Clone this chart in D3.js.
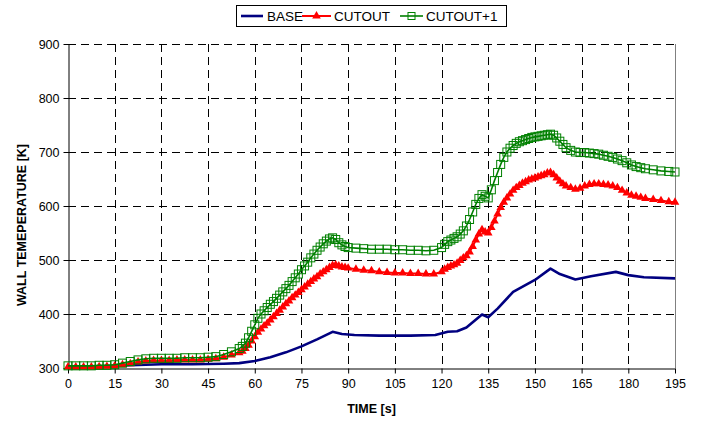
<!DOCTYPE html>
<html>
<head>
<meta charset="utf-8">
<script src="https://cdn.jsdelivr.net/npm/d3@7"></script>
<style>
  html, body { margin: 0; padding: 0; background: #fff; }
  svg { display: block; font-family: "Liberation Sans", Arial, sans-serif; }
</style>
</head>
<body>
<svg id="chart" width="706" height="423"></svg>
<script>
// Wall temperature histories for the three configurations
const seriesNames = ["BASE", "CUTOUT", "CUTOUT+1"];

const baseTime = [0, 10, 15, 20, 25, 30, 40, 50, 55, 60, 65, 70, 75, 80, 85, 88, 92, 100, 110, 118,
  122, 125, 128, 133, 135, 138, 143, 150, 155, 158, 163, 168, 176, 180, 185, 195];
const baseTemp = [302, 303, 304, 305, 306, 307, 307, 308, 309, 313, 320, 329, 340, 353, 367, 363, 361, 360, 360, 361,
  367, 368, 375, 399, 394, 410, 441, 463, 484, 474, 464, 470, 478, 472, 468, 466];

const cutTime = [
  0, 2.5, 5, 7.5, 10, 12.5, 15, 17.5, 20, 22.5, 25, 27.5, 30, 32.5, 35, 37.5, 40, 42.5, 45, 47.5, 50, 52.5, 55,
  56, 57, 58, 59, 60, 61, 62, 63, 64, 65, 66, 67, 68, 69, 70, 71, 72, 73, 74, 75, 76, 77, 78, 79, 80,
  81, 82, 83, 84, 85, 86, 87, 88, 89, 90,
  92.5, 95, 97.5, 100, 102.5, 105, 107.5, 110, 112.5, 115, 117.5, 120,
  121, 122, 123, 124, 125, 126, 127, 128, 129, 130, 131, 132, 133, 134, 135, 136, 137, 138, 139, 140,
  141, 142, 143, 144, 145, 146, 147, 148, 149, 150, 151, 152, 153, 154, 155, 156, 157, 158, 159, 160,
  161.5, 163, 164.5, 166, 167.5, 169, 170.5, 172, 173.5, 175, 176.5, 178, 179.5, 181, 182.5, 184, 185.5,
  188, 190.5, 193, 195
];

const cutoutTemp = [
  302, 302, 302, 302, 302.5, 303, 304, 306, 308, 311, 313, 314, 314, 314, 315, 315, 315, 315, 316, 317, 320, 324, 328,
  331, 336, 342, 350, 358, 366, 372, 378, 383, 389, 395, 401, 407, 413, 419, 424, 430, 435, 440, 445, 450, 455, 460, 465, 469,
  474, 478, 482, 486, 490, 491, 489, 487, 486, 485,
  483, 481, 480, 478, 477, 476, 476, 475, 475, 474, 474, 478,
  483, 486, 489, 491, 494, 499, 504, 508, 515, 525, 537, 548, 556, 552, 550, 560, 572, 585, 597, 607,
  615, 622, 629, 634, 638, 642, 645, 648, 650, 652, 654, 656, 658, 661, 662, 658, 652, 646, 641, 637,
  634, 631, 633, 637, 640, 641, 641, 640, 639, 637, 634, 629, 624, 620, 618, 616, 614,
  612, 610, 608, 607
];

const cutoutPlusTemp = [
  304, 304, 304, 304, 305, 305, 306, 309, 312, 315, 317, 318, 318, 318, 318, 319, 319, 319, 320, 321, 325, 330, 336,
  340, 346, 356, 368, 380, 392, 400, 406, 412, 418, 423, 429, 435, 441, 447, 453, 460, 467, 474, 482, 489, 496, 504, 511, 518,
  524, 530, 535, 539, 541, 538, 532, 528, 525, 523,
  522, 521, 520, 520, 520, 519, 519, 518, 518, 517, 518, 523,
  529, 534, 537, 540, 543, 548, 554, 563, 575, 589, 603, 614, 621, 618, 615, 630, 647, 662, 677, 690,
  700, 707, 712, 716, 719, 721, 723, 725, 727, 728, 729, 730, 731, 732, 733, 731, 726, 720, 714, 708,
  703, 700, 699, 699, 698, 697, 696, 694, 692, 690, 687, 684, 680, 676, 673, 671, 669,
  667, 665, 664, 663
];

const xTicks = [0, 15, 30, 45, 60, 75, 90, 105, 120, 135, 150, 165, 180, 195];
const yTicks = [300, 400, 500, 600, 700, 800, 900];

(function drawChart() {
  const svg = d3.select("#chart");
  const pL = 68, pR = 675, pT = 44, pB = 368;

  const x = d3.scaleLinear().domain([0, 195]).range([pL, pR]);
  const y = d3.scaleLinear().domain([300, 900]).range([pB, pT]);

  // dashed grid
  const grid = svg.append("g").attr("stroke", "#000").attr("stroke-width", 1).attr("stroke-dasharray", "8,5");
  grid.selectAll(".gx").data(xTicks.filter(d => d > 0 && d < 195)).enter().append("line")
    .attr("x1", d => Math.round(x(d)) + 0.5).attr("x2", d => Math.round(x(d)) + 0.5)
    .attr("y1", pT).attr("y2", pB);
  grid.selectAll(".gy").data(yTicks.filter(d => d > 300)).enter().append("line")
    .attr("x1", pL).attr("x2", pR)
    .attr("y1", d => Math.round(y(d)) + 0.5).attr("y2", d => Math.round(y(d)) + 0.5);

  // right border of the plot area
  svg.append("line")
    .attr("x1", Math.round(pR) + 0.5).attr("x2", Math.round(pR) + 0.5)
    .attr("y1", pT).attr("y2", pB)
    .attr("stroke", "#808080").attr("stroke-width", 1);

  // axes
  const xAxis = svg.append("g").attr("transform", `translate(0,${pB + 0.5})`)
    .call(d3.axisBottom(x).tickValues(xTicks).tickSize(5).tickSizeOuter(0).tickPadding(6));
  const yAxis = svg.append("g").attr("transform", `translate(${pL + 0.5},0)`)
    .call(d3.axisLeft(y).tickValues(yTicks).tickSize(5).tickSizeOuter(0).tickPadding(4));
  [xAxis, yAxis].forEach(a => {
    a.select(".domain").attr("stroke", "#000").attr("stroke-width", 1);
    a.selectAll(".tick line").attr("stroke", "#000");
    a.selectAll(".tick text").attr("font-size", 12.5).attr("fill", "#000")
      .attr("font-family", "'Liberation Sans', Arial, sans-serif");
  });

  // axis titles
  svg.append("text").attr("x", (pL + pR) / 2).attr("y", 413)
    .attr("text-anchor", "middle").attr("font-size", 12.5).attr("font-weight", "bold")
    .text("TIME [s]");
  svg.append("text").attr("transform", `translate(26,225) rotate(-90)`)
    .attr("text-anchor", "middle").attr("font-size", 12.5).attr("font-weight", "bold")
    .text("WALL TEMEPERATURE [K]");

  // series
  const line = d3.line().x(d => x(d[0])).y(d => y(d[1]));
  const basePts = baseTime.map((t, i) => [t, baseTemp[i]]);
  const cutPts = cutTime.map((t, i) => [t, cutoutTemp[i]]);
  const plusPts = cutTime.map((t, i) => [t, cutoutPlusTemp[i]]);

  svg.append("path").datum(basePts).attr("d", line)
    .attr("fill", "none").attr("stroke", "#000080").attr("stroke-width", 2.6).attr("stroke-linejoin", "round");

  svg.append("path").datum(cutPts).attr("d", line)
    .attr("fill", "none").attr("stroke", "#ff0000").attr("stroke-width", 2);
  const tri = d3.symbol().type(d3.symbolTriangle).size(32);
  svg.append("g").selectAll("path").data(cutPts).enter().append("path")
    .attr("d", tri).attr("transform", d => `translate(${x(d[0])},${y(d[1])})`)
    .attr("fill", "#ff0000");

  svg.append("path").datum(plusPts).attr("d", line)
    .attr("fill", "none").attr("stroke", "#008000").attr("stroke-width", 1.6);
  svg.append("g").selectAll("rect").data(plusPts).enter().append("rect")
    .attr("x", d => x(d[0]) - 4).attr("y", d => y(d[1]) - 4)
    .attr("width", 8).attr("height", 8)
    .attr("fill", "none").attr("stroke", "#008000").attr("stroke-width", 1);

  // legend
  const lg = svg.append("g");
  lg.append("rect").attr("x", 236.5).attr("y", 5.5).attr("width", 270).attr("height", 21)
    .attr("fill", "#fff").attr("stroke", "#000").attr("stroke-width", 1);
  const ly = 16;
  const items = [
    { name: seriesNames[0], x0: 241, x1: 263, tx: 267, color: "#000080", w: 2.6, mark: null },
    { name: seriesNames[1], x0: 302, x1: 331, tx: 334, color: "#ff0000", w: 2, mark: "tri" },
    { name: seriesNames[2], x0: 400, x1: 423, tx: 426, color: "#008000", w: 1.6, mark: "sq" }
  ];
  items.forEach(it => {
    lg.append("line").attr("x1", it.x0).attr("x2", it.x1).attr("y1", ly).attr("y2", ly)
      .attr("stroke", it.color).attr("stroke-width", it.w);
    const cx = (it.x0 + it.x1) / 2;
    if (it.mark === "tri") {
      lg.append("path").attr("d", tri).attr("transform", `translate(${cx},${ly})`).attr("fill", it.color);
    } else if (it.mark === "sq") {
      lg.append("rect").attr("x", cx - 3.5).attr("y", ly - 3.5).attr("width", 7).attr("height", 7)
        .attr("fill", "none").attr("stroke", it.color).attr("stroke-width", 1);
    }
    lg.append("text").attr("x", it.tx).attr("y", ly + 5).attr("font-size", 13.5).text(it.name);
  });
})();
</script>
</body>
</html>
